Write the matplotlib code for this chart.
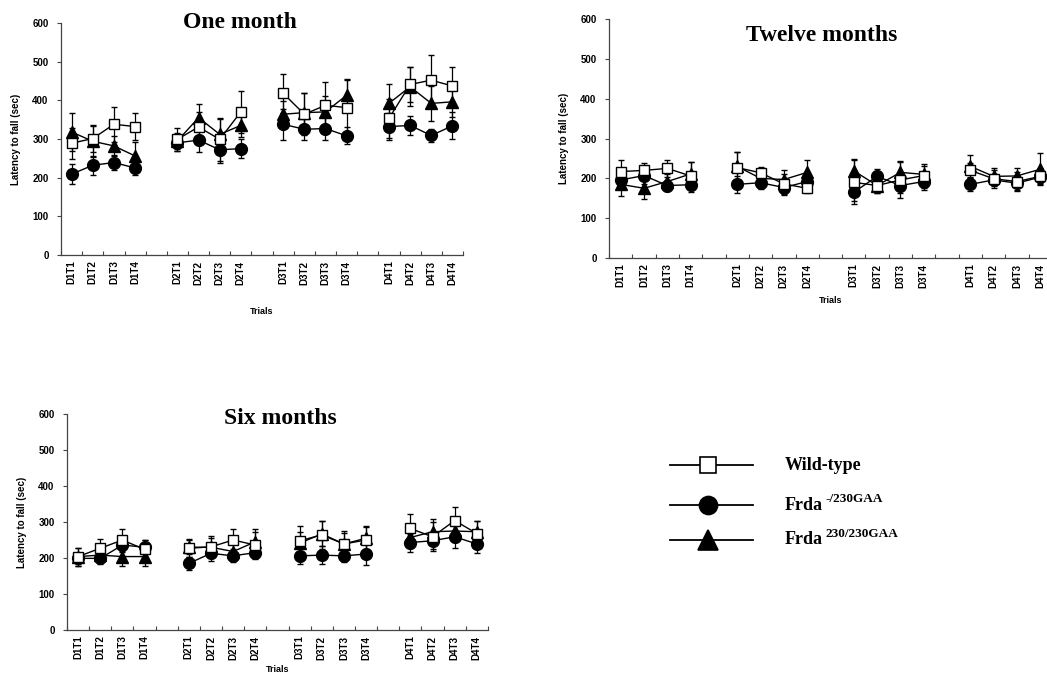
#!/usr/bin/env python3
"""
Rotarod performance: latency to fall across trials at one, six and twelve months.
"""
import numpy as np
import matplotlib
matplotlib.use('Agg')
import matplotlib.pyplot as plt

# x categories: four trials per day, empty slot between days
trials = ['D1T1', 'D1T2', 'D1T3', 'D1T4', '',
          'D2T1', 'D2T2', 'D2T3', 'D2T4', '',
          'D3T1', 'D3T2', 'D3T3', 'D3T4', '',
          'D4T1', 'D4T2', 'D4T3', 'D4T4']

# One month
m1_wt = [289, 301, 338, 332, 299, 331, 299, 370, 418, 364, 387, 381, 353, 441, 452, 437]
m1_wt_err = [40, 35, 45, 35, 30, 40, 55, 55, 50, 55, 60, 75, 50, 45, 65, 50]
m1_het = [209, 232, 239, 225, 290, 297, 272, 275, 338, 325, 327, 308, 332, 335, 309, 334]
m1_het_err = [25, 25, 20, 18, 20, 30, 35, 25, 40, 28, 30, 22, 35, 25, 18, 35]
m1_hom = [318, 294, 282, 256, 295, 355, 312, 335, 364, 368, 370, 413, 392, 435, 392, 396]
m1_hom_err = [50, 40, 25, 35, 20, 35, 40, 30, 35, 50, 40, 40, 50, 50, 45, 40]

# Twelve months
m12_wt = [217, 220, 225, 206, 227, 214, 186, 175, 190, 182, 196, 207, 220, 199, 192, 205]
m12_wt_err = [28, 18, 22, 35, 38, 15, 25, 12, 55, 20, 45, 30, 18, 22, 25, 20]
m12_het = [196, 207, 182, 184, 185, 189, 177, 192, 165, 205, 182, 192, 185, 196, 188, 203]
m12_het_err = [22, 20, 15, 18, 22, 15, 18, 18, 22, 18, 18, 20, 18, 15, 18, 15]
m12_hom = [185, 175, 192, 211, 230, 200, 197, 215, 219, 182, 215, 210, 230, 205, 206, 223]
m12_hom_err = [30, 28, 20, 30, 35, 20, 25, 30, 30, 20, 28, 22, 28, 22, 20, 40]

# Six months
m6_wt = [204, 227, 250, 224, 227, 231, 250, 236, 248, 264, 239, 250, 282, 259, 304, 268]
m6_wt_err = [25, 25, 30, 25, 25, 30, 30, 35, 40, 40, 35, 40, 40, 40, 38, 35]
m6_het = [199, 199, 236, 230, 185, 213, 206, 215, 206, 208, 206, 211, 243, 248, 259, 239]
m6_het_err = [15, 15, 20, 20, 18, 22, 18, 18, 22, 25, 18, 30, 25, 22, 30, 25]
m6_hom = [204, 208, 204, 204, 230, 230, 218, 245, 241, 267, 239, 255, 257, 273, 275, 273]
m6_hom_err = [25, 15, 25, 25, 20, 25, 20, 35, 30, 35, 30, 30, 30, 35, 30, 30]

SANS = 'Liberation Sans'
SERIF = 'Liberation Serif'

STYLES = [  # (marker, face, size) drawn triangle, circle, square
    ('^', 'black', 8),
    ('o', 'black', 8.5),
    ('s', 'white', 7.5),
]


def draw_panel(ax, title, title_xy, xpad, wt, wt_err, het, het_err, hom, hom_err):
    labels = [t for t in trials if t]
    pos = [i for i, t in enumerate(trials) if t]
    days = []
    for t in labels:
        if t[:2] not in days:
            days.append(t[:2])
    series = [(hom, hom_err), (het, het_err), (wt, wt_err)]
    for (vals, errs), (mk, face, ms) in zip(series, STYLES):
        vals = np.asarray(vals, float)
        errs = np.asarray(errs, float)
        for d in days:
            idx = [k for k, t in enumerate(labels) if t.startswith(d)]
            x = [pos[k] for k in idx]
            ax.errorbar(x, vals[idx], yerr=errs[idx], color='black', lw=1.0,
                        marker=mk, mfc=face, mec='black', mew=1.0, ms=ms,
                        elinewidth=0.9, capsize=2, capthick=0.9)
    ax.set_xlim(-0.5, len(trials) - 0.5)
    ax.set_ylim(0, 600)
    ax.set_yticks(np.arange(0, 601, 100))
    ax.set_xticks(pos)
    ax.set_xticklabels(labels, rotation=90, fontsize=7, fontweight='bold', family=SANS)
    ax.set_xticks(np.arange(-0.5, len(trials), 1), minor=True)
    ax.tick_params(axis='x', which='major', length=0, pad=4)
    ax.tick_params(axis='x', which='minor', length=3, direction='in', width=0.8, color='#444444')
    ax.tick_params(axis='y', length=3, width=0.8, color='#444444', labelsize=7, pad=6)
    for lab in ax.get_yticklabels():
        lab.set_fontweight('bold')
        lab.set_family(SANS)
    for s in ['top', 'right']:
        ax.spines[s].set_visible(False)
    for s in ['left', 'bottom']:
        ax.spines[s].set_linewidth(0.9)
        ax.spines[s].set_color('#444444')
    ax.set_ylabel('Latency to fall (sec)', fontsize=7, fontweight='bold', family=SANS, labelpad=8)
    ax.set_xlabel('Trials', fontsize=6.5, fontweight='bold', family=SANS, labelpad=xpad)
    ax.text(title_xy[0], title_xy[1], title, transform=ax.transAxes, ha='center', va='center',
            fontsize=17, fontweight='bold', family=SERIF)


fig = plt.figure(figsize=(10.47, 6.79), dpi=100)

ax1 = fig.add_axes([0.0583, 0.6245, 0.3839, 0.3417])
draw_panel(ax1, 'One month', (0.445, 1.0), 16, m1_wt, m1_wt_err, m1_het, m1_het_err, m1_hom, m1_hom_err)

ax2 = fig.add_axes([0.5817, 0.620, 0.423, 0.352])
draw_panel(ax2, 'Twelve months', (0.48, 0.93), 6, m12_wt, m12_wt_err, m12_het, m12_het_err, m12_hom, m12_hom_err)

ax3 = fig.add_axes([0.064, 0.0722, 0.402, 0.318])
draw_panel(ax3, 'Six months', (0.506, 0.98), 4, m6_wt, m6_wt_err, m6_het, m6_het_err, m6_hom, m6_hom_err)

# Legend drawn in pixel-like coordinates
lg = fig.add_axes([640 / 1047, 1 - 560 / 679, 320 / 1047, 120 / 679])
lg.set_xlim(640, 960)
lg.set_ylim(560, 440)
lg.axis('off')
legend_rows = [
    ('s', 'white', 11, 465, 'Wild-type', None),
    ('o', 'black', 13, 505, 'Frda', '-/230GAA'),
    ('^', 'black', 14, 540, 'Frda', '230/230GAA'),
]
for mk, face, ms, y, name, sup in legend_rows:
    lg.plot([670, 753], [y, y], color='black', lw=1.3)
    lg.plot([708], [y], marker=mk, mfc=face, mec='black', mew=1.2, ms=ms, color='black')
    t = lg.text(785, y, name, ha='left', va='center', fontsize=13, fontweight='bold', family=SERIF)
    if sup:
        lg.annotate(sup, xy=(1, 0.5), xycoords=t, xytext=(2, 0), textcoords='offset points',
                    ha='left', va='bottom', fontsize=9.5, fontweight='bold', family=SERIF)

plt.savefig('out.png', dpi=100)
plt.close()
